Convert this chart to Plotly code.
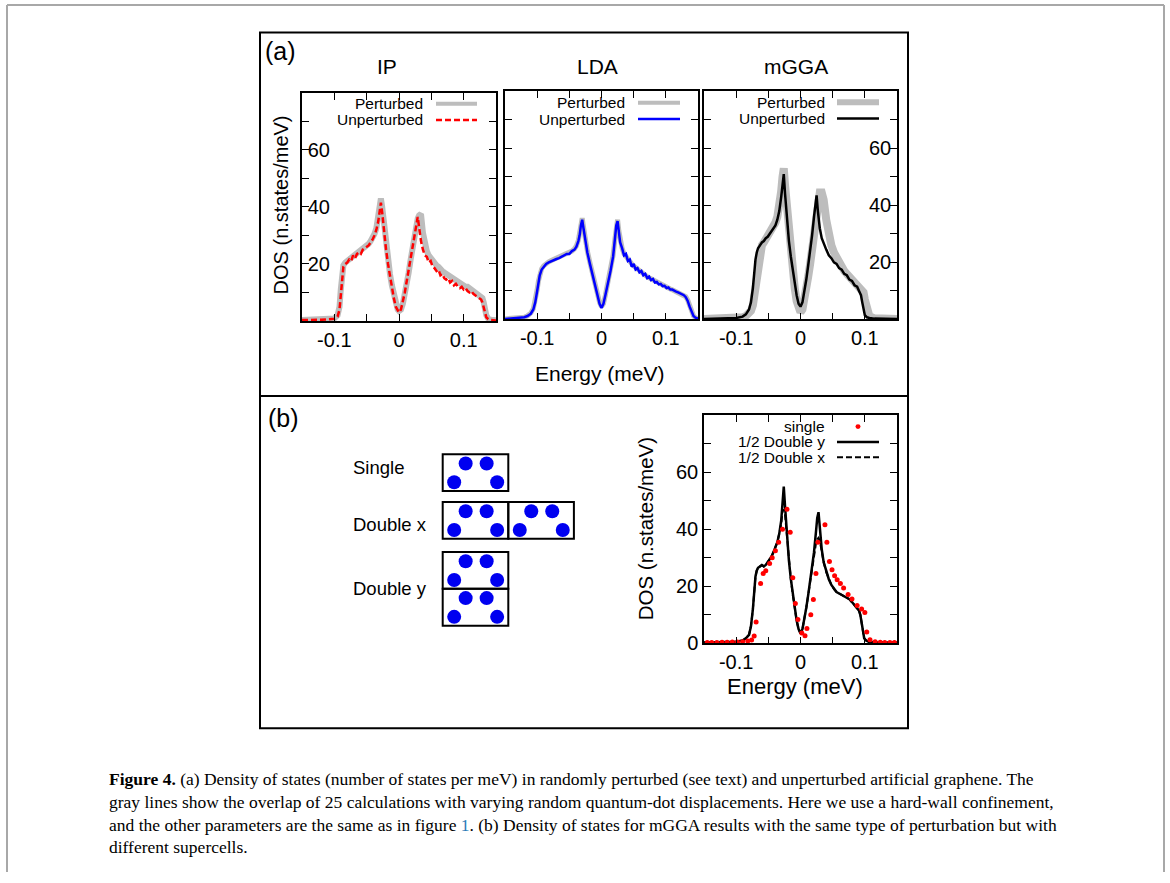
import plotly.graph_objects as go

W, H = 1170, 883

# ---------------- data ----------------
energy_ip = [-0.15, -0.12, -0.10, -0.095, -0.092, -0.09, -0.088, -0.086, -0.083, -0.08, -0.077, -0.074,
             -0.071, -0.068, -0.065, -0.062, -0.059, -0.056, -0.053, -0.05, -0.047, -0.044, -0.041, -0.038,
             -0.035, -0.032, -0.030, -0.028, -0.026, -0.023, -0.020, -0.017, -0.014, -0.011, -0.008, -0.005,
             -0.002, 0.0, 0.003, 0.006, 0.009, 0.012, 0.015, 0.018, 0.021, 0.024, 0.027, 0.029, 0.031, 0.034,
             0.037, 0.040, 0.043, 0.046, 0.049, 0.052, 0.055, 0.058, 0.061, 0.064, 0.067, 0.070, 0.073, 0.076,
             0.079, 0.082, 0.085, 0.088, 0.091, 0.094, 0.097, 0.100, 0.103, 0.106, 0.109, 0.112, 0.115, 0.118,
             0.121, 0.124, 0.127, 0.129, 0.131, 0.133, 0.135, 0.138, 0.142, 0.15]
dos_ip_unperturbed = [0.3, 0.4, 0.8, 1.5, 4, 10, 16, 19, 20, 20.5, 21.5, 21, 23, 22, 23.5, 24, 23.5, 25, 25.5,
                      26, 26.5, 27.5, 28.5, 30, 32, 35, 38, 41.5, 38, 31, 25, 20, 15.5, 11.5, 8, 5, 3.5, 3, 4,
                      6.5, 10, 14, 18, 22.5, 27, 31, 35, 36.5, 33, 28, 25, 23, 22.5, 20.5, 21, 19, 18.5, 17.5,
                      18, 16, 16.5, 15, 14.5, 15, 13.5, 14, 12.5, 13, 12, 11.5, 12, 11, 11.5, 10.5, 10, 10.5,
                      9.5, 9, 8.5, 8, 7.5, 6.5, 4.5, 2.5, 1.3, 0.6, 0.3, 0.2]
dos_ip_perturbed = [0.3, 0.4, 0.9, 2, 5, 11, 17, 19.5, 20.5, 21, 21.5, 22, 22.5, 23, 23.5, 24, 24.5, 25, 25.5,
                    26, 27, 28, 29, 30.5, 32.5, 36, 39.5, 43, 40, 33, 26.5, 21, 16.5, 12.5, 9, 6, 4, 3.5, 4,
                    6, 9, 13, 17, 21.5, 26, 30, 34, 36, 37, 37.5, 31, 26, 24.5, 23, 22, 21, 20.5, 19.5, 19,
                    18, 17.5, 17, 16.5, 16, 15.5, 15, 14.5, 14, 13.5, 13, 13, 12.5, 12, 12, 11.5, 11, 10.5,
                    10, 9.5, 9, 8.5, 8, 6.5, 4, 2, 0.8, 0.4, 0.2]

energy_lda = [-0.15, -0.13, -0.12, -0.115, -0.11, -0.106, -0.103, -0.100, -0.098, -0.096, -0.093, -0.090,
              -0.086, -0.082, -0.078, -0.074, -0.070, -0.066, -0.062, -0.058, -0.054, -0.050, -0.046, -0.042,
              -0.039, -0.036, -0.034, -0.032, -0.030, -0.028, -0.025, -0.022, -0.018, -0.014, -0.010, -0.006,
              -0.003, 0.0, 0.003, 0.006, 0.010, 0.014, 0.018, 0.021, 0.023, 0.025, 0.027, 0.029, 0.032, 0.035,
              0.038, 0.041, 0.044, 0.047, 0.050, 0.053, 0.056, 0.059, 0.062, 0.065, 0.068, 0.071, 0.074, 0.077,
              0.080, 0.083, 0.086, 0.089, 0.092, 0.095, 0.098, 0.101, 0.104, 0.107, 0.110, 0.113, 0.116, 0.119,
              0.122, 0.125, 0.128, 0.131, 0.134, 0.137, 0.140, 0.143, 0.146, 0.15]
dos_lda_unperturbed = [0.2, 0.5, 0.8, 1.2, 2, 3.5, 6, 10, 13, 15.5, 17.5, 18.5, 19.5, 20, 20.5, 21, 21.2, 21.5,
                       22, 22.3, 23, 23, 24, 24.5, 25.5, 27.5, 29.5, 33, 35, 32, 27, 23.5, 19.5, 15.5, 12, 8.5,
                       5.5, 4, 5.5, 8.5, 12.5, 17, 22, 28, 33, 34.5, 30, 27, 25, 22.5, 23, 20.5, 21, 18.5, 19.5,
                       17.5, 18, 16.5, 17, 15.5, 16, 14.5, 15, 13.8, 14.2, 13, 13.2, 12.3, 12.5, 11.7, 11.8, 11,
                       11.2, 10.5, 10.5, 10, 9.8, 9.5, 9.2, 9, 8.5, 7.8, 6.5, 4.5, 2.5, 1.2, 0.6, 0.3]
dos_lda_perturbed = [0.2, 0.5, 0.8, 1.3, 2.2, 3.8, 6.5, 10.5, 13.5, 16, 17.8, 18.8, 19.7, 20.2, 20.7, 21.1, 21.4,
                     21.7, 22.1, 22.5, 23, 23.4, 24, 24.8, 25.8, 27.8, 30, 33.5, 35.5, 32.5, 27.5, 24, 20,
                     16, 12.5, 9, 6, 4.5, 5.5, 8.5, 12.5, 17.5, 22.5, 28.5, 33.5, 35, 31, 27.5, 25, 23, 22,
                     21, 20, 19.5, 18.8, 18.2, 17.5, 17, 16.5, 16, 15.5, 15, 14.6, 14.2, 13.8, 13.4, 13, 12.6,
                     12.3, 12, 11.7, 11.3, 11, 10.7, 10.4, 10.1, 9.8, 9.5, 9.2, 9, 8.6, 8, 6.8, 4.8, 2.7, 1.3,
                     0.6, 0.3]

energy_mgga = [-0.15, -0.12, -0.10, -0.09, -0.085, -0.08, -0.077, -0.074, -0.072, -0.070, -0.068, -0.066,
               -0.063, -0.060, -0.057, -0.054, -0.051, -0.048, -0.045, -0.042, -0.039, -0.036, -0.033, -0.030,
               -0.028, -0.026, -0.024, -0.021, -0.018, -0.015, -0.012, -0.009, -0.006, -0.003, 0.0, 0.003,
               0.006, 0.009, 0.012, 0.015, 0.018, 0.021, 0.023, 0.025, 0.027, 0.030, 0.033, 0.036, 0.040,
               0.044, 0.048, 0.052, 0.056, 0.060, 0.064, 0.068, 0.072, 0.076, 0.080, 0.084, 0.088, 0.091,
               0.094, 0.096, 0.098, 0.100, 0.103, 0.107, 0.115, 0.13, 0.15]
dos_mgga_unperturbed = [0.2, 0.3, 0.5, 1, 1.8, 3.5, 6, 11, 17, 21, 23.5, 25, 26, 27, 27.5, 28.5, 29, 30, 31, 32,
                        33, 35, 38, 43, 48, 51, 44, 35, 27.5, 22, 17, 12.5, 8.5, 5.5, 4.5, 6, 9.5, 14, 19, 24,
                        29.5, 36, 41, 43.5, 38, 32, 28.5, 26.5, 24.5, 22.5, 21.5, 20, 19.5, 18, 17.5, 16, 15.5,
                        14, 13.5, 12, 11.5, 10, 8.5, 6, 3, 1.5, 0.8, 0.5, 0.3, 0.2, 0.2]
dos_mgga_perturbed = [0.2, 0.3, 0.5, 0.8, 1.2, 2, 3, 5, 8, 13, 18, 21.5, 24, 26, 27, 28, 29, 30, 31, 32.5, 34,
                      36, 39, 45, 50, 53, 47, 38, 29, 22, 16, 11, 6.5, 3.5, 2.5, 3.5, 6.5, 10.5, 15, 19.5, 24.5,
                      30, 35, 40, 43, 44.5, 44.5, 42, 35, 29, 26, 23.5, 21.5, 20, 18.5, 17, 16, 15, 14, 13, 12,
                      11.5, 11, 10.5, 9.5, 7, 3.5, 1.2, 0.4, 0.2, 0.2]

energy_b = [-0.15, -0.12, -0.10, -0.09, -0.085, -0.08, -0.077, -0.074, -0.072, -0.070, -0.068, -0.066, -0.063,
            -0.060, -0.057, -0.054, -0.051, -0.048, -0.045, -0.042, -0.039, -0.036, -0.033, -0.030, -0.028,
            -0.026, -0.024, -0.021, -0.018, -0.015, -0.012, -0.009, -0.006, -0.003, 0.0, 0.003, 0.006, 0.009,
            0.012, 0.015, 0.018, 0.021, 0.024, 0.026, 0.028, 0.030, 0.033, 0.036, 0.040, 0.044, 0.048, 0.052,
            0.056, 0.060, 0.064, 0.068, 0.072, 0.076, 0.080, 0.084, 0.088, 0.091, 0.093, 0.095, 0.097, 0.099,
            0.102, 0.106, 0.115, 0.13, 0.15]
dos_double_y = [0.3, 0.4, 0.6, 1, 1.8, 3, 6, 12, 19, 23.5, 25.5, 26.5, 27, 27.5, 27, 27.5, 28.5, 29.5, 30.5, 32,
                33.5, 35.5, 38.5, 43, 49, 55, 48, 38, 29, 22.5, 17, 12, 8, 5, 3.5, 5, 8.5, 12.5, 17, 21.5,
                26.5, 32, 39, 44, 46, 40, 33, 28.5, 25, 22.5, 20.5, 19, 18, 17.5, 17, 16.5, 16, 15.5, 14.5,
                13.5, 12.5, 11.5, 10, 7, 3.5, 1.8, 1, 0.6, 0.4, 0.3, 0.3]
dos_double_x = [0.3, 0.4, 0.6, 1, 1.8, 3, 6, 12, 19, 23.5, 25.5, 26.5, 27, 27.5, 27, 27.5, 28.5, 29.5, 30.5, 32,
                33.5, 35.5, 38.5, 42, 46, 47, 45, 37.5, 29, 22.5, 17, 12, 8, 5, 3.5, 5, 8.5, 12.5, 17, 21.5,
                26.5, 31.5, 35, 36.5, 37, 36, 32, 28.5, 25, 22.5, 20.5, 19, 18, 17.5, 17, 16.5, 16, 15.5, 14.5,
                13.5, 12.5, 11.5, 10, 7, 3.5, 1.8, 1, 0.6, 0.4, 0.3, 0.3]
energy_single = [-0.145, -0.138, -0.130, -0.122, -0.114, -0.106, -0.098, -0.090, -0.082, -0.076, -0.072, -0.069,
                 -0.062, -0.058, -0.054, -0.048, -0.044, -0.039, -0.034, -0.028, -0.021, -0.016, -0.012, -0.008,
                 -0.004, 0.002, 0.007, 0.010, 0.016, 0.020, 0.024, 0.027, 0.038, 0.041, 0.045, 0.049, 0.053,
                 0.057, 0.062, 0.067, 0.074, 0.080, 0.088, 0.095, 0.100, 0.103, 0.108, 0.116, 0.124, 0.131,
                 0.139, 0.146]
dos_single = [0.3, 0.3, 0.3, 0.4, 0.4, 0.5, 0.5, 0.6, 0.8, 1.2, 2.6, 7.5, 21, 24.5, 25.5, 28, 30, 32.5, 35.5, 40,
              47, 39, 23, 14, 8.4, 3.6, 2.7, 5.2, 10, 15.4, 24.5, 35.5, 41.6, 35.5, 28.7, 25.8, 23.7, 22.3, 21,
              19.4, 17.1, 15.6, 13.3, 12.1, 10.8, 4, 1.3, 0.6, 0.4, 0.3, 0.3, 0.3]

x_tickvals = [-0.1, -0.05, 0, 0.05, 0.1]
x_ticktext = ["-0.1", "", "0", "", "0.1"]
y_tickvals_a = [10, 20, 30, 40, 50, 60, 70]
y_ticktext_a = ["", "20", "", "40", "", "60", ""]
y_tickvals_b = [0, 10, 20, 30, 40, 50, 60, 70]
y_ticktext_b = ["0", "", "20", "", "40", "", "60", ""]

# schematic of supercells: dot pattern inside one cell (fractions of cell), cells per configuration
cell_dot_u = [0.35, 0.67, 0.175, 0.83]
cell_dot_v = [0.25, 0.25, 0.76, 0.76]
supercell_names = ["Single", "Double x", "Double y"]
supercell_cells = [[(0, 0)], [(0, 0), (1, 0)], [(0, 0), (0, 1)]]

# ---------------- layout geometry (pixels) ----------------
SANS = "Liberation Sans, Arial, sans-serif"
SERIF = "Liberation Serif, Times New Roman, serif"


def dom_x(a, b):
    return [a / W, b / W]


def dom_y(top, bottom):
    return [1 - bottom / H, 1 - top / H]


boxes = {
    "ip": ((302, 496), (94, 325)),
    "lda": ((505, 698), (92.5, 323.5)),
    "mgga": ((704, 897), (92.5, 323.5)),
    "b": ((704, 897), (420.5, 651.5)),
}

fig = go.Figure()

GRAY = "#bdbdbd"


def add(x, y, ax, **kw):
    fig.add_trace(go.Scatter(x=x, y=y, xaxis="x" + ax, yaxis="y" + ax, showlegend=False,
                             hoverinfo="skip", **kw))


add(energy_ip, dos_ip_perturbed, "", mode="lines", line=dict(color=GRAY, width=6))
add(energy_ip, dos_ip_unperturbed, "", mode="lines", line=dict(color="#ff0000", width=2.5, dash="6px,3px"))
add(energy_lda, dos_lda_perturbed, "2", mode="lines", line=dict(color=GRAY, width=5))
add(energy_lda, dos_lda_unperturbed, "2", mode="lines", line=dict(color="#0000ff", width=2.5))
add(energy_mgga, dos_mgga_perturbed, "3", mode="lines", line=dict(color=GRAY, width=8))
add(energy_mgga, dos_mgga_unperturbed, "3", mode="lines", line=dict(color="#000000", width=2.5))
add(energy_b, dos_double_y, "4", mode="lines", line=dict(color="#000000", width=2.5))
add(energy_b, dos_double_x, "4", mode="lines", line=dict(color="#000000", width=2, dash="6px,3px"))
add(energy_single, dos_single, "4", mode="markers", marker=dict(color="#ff0000", size=5, line=dict(width=0)))

# schematic dots on a pixel overlay axis
SCH_X0, SCH_ROWS_Y = 442.7, [460, 508.3, 559]
CELL_W, CELL_H = 65.6, 37.3
dot_x, dot_y = [], []
rect_shapes = []
for cells, y0 in zip(supercell_cells, SCH_ROWS_Y):
    for (ci, cj) in cells:
        cx0 = SCH_X0 + ci * CELL_W
        cy0 = y0 + cj * CELL_H
        rect_shapes.append(dict(type="rect", xref="x5", yref="y5", x0=cx0, x1=cx0 + CELL_W,
                                y0=cy0, y1=cy0 + CELL_H, line=dict(color="black", width=2)))
        for u, v in zip(cell_dot_u, cell_dot_v):
            dot_x.append(cx0 + u * CELL_W)
            dot_y.append(cy0 + v * CELL_H)
add(dot_x, dot_y, "5", mode="markers", marker=dict(color="#0000f0", size=14, line=dict(width=0)))

axis_common = dict(showline=True, linecolor="black", linewidth=1.5, mirror="ticks", ticks="inside",
                   ticklen=7, tickwidth=1, tickcolor="black", showgrid=False, zeroline=False,
                   tickfont=dict(family=SANS, size=20, color="black"))

layout = dict(width=W, height=H, margin=dict(l=0, r=0, t=0, b=0), paper_bgcolor="white",
              plot_bgcolor="rgba(0,0,0,0)", showlegend=False)

names = {"ip": "", "lda": "2", "mgga": "3", "b": "4"}
for key, sfx in names.items():
    (xa, xb), (yt, yb) = boxes[key]
    xk = "xaxis" + sfx
    yk = "yaxis" + sfx
    layout[xk] = dict(axis_common, domain=dom_x(xa, xb), range=[-0.15, 0.15], tickmode="array",
                      tickvals=x_tickvals, ticktext=x_ticktext, anchor="y" + sfx)
    if key == "b":
        yv, yt_ = y_tickvals_b, y_ticktext_b
    else:
        yv, yt_ = y_tickvals_a, y_ticktext_a
    layout[yk] = dict(axis_common, domain=dom_y(yt, yb), range=[0, 80], tickmode="array",
                      tickvals=yv, ticktext=yt_, anchor="x" + sfx)

layout["yaxis"].update(ticklabelposition="inside")
layout["yaxis2"].update(showticklabels=False)
layout["yaxis3"].update(side="right", ticklabelposition="inside")
layout["xaxis5"] = dict(domain=[0, 1], range=[0, W], visible=False, anchor="y5", fixedrange=True)
layout["yaxis5"] = dict(domain=[0, 1], range=[H, 0], visible=False, anchor="x5", fixedrange=True)

# ---------------- decorations ----------------
shapes = []
# page border
for (x0, y0, x1, y1) in [(7, 5, 1164, 5), (7, 5, 7, 883), (1164, 5, 1164, 883)]:
    shapes.append(dict(type="line", xref="x5", yref="y5", x0=x0, y0=y0, x1=x1, y1=y1,
                       line=dict(color="#a8a8a8", width=2)))
# panel frame
shapes.append(dict(type="rect", xref="x5", yref="y5", x0=260, x1=908, y0=33, y1=737.5,
                   line=dict(color="black", width=2)))
shapes.append(dict(type="line", xref="x5", yref="y5", x0=260, x1=908, y0=401, y1=401,
                   line=dict(color="black", width=2)))
shapes += rect_shapes

annotations = []


def text(x, y, s, size, anchor="center", family=SANS, angle=0, color="black"):
    annotations.append(dict(x=x, y=y, xref="x5", yref="y5", text=s, showarrow=False, xanchor=anchor,
                            yanchor="middle", textangle=angle, font=dict(family=family, size=size, color=color)))


# legend entries (text right-aligned, sample on the right)
def legend_line(x0, x1, y, color, width, dash="solid"):
    shapes.append(dict(type="line", xref="x5", yref="y5", x0=x0, x1=x1, y0=y, y1=y,
                       line=dict(color=color, width=width, dash=dash)))


legend_sets = [
    (425, 436, 477, [("Perturbed", GRAY, 4, "solid"), ("Unperturbed", "#ff0000", 2.5, "6px,3px")], 105),
    (627, 638, 680, [("Perturbed", GRAY, 4, "solid"), ("Unperturbed", "#0000ff", 2.5, "solid")], 104),
    (827, 837, 879, [("Perturbed", GRAY, 6, "solid"), ("Unperturbed", "#000000", 2.5, "solid")], 103.5),
]
for tx, lx0, lx1, entries, ytop in legend_sets:
    for i, (lab, col, wid, dsh) in enumerate(entries):
        yy = ytop + i * 16.5
        text(tx, yy, lab, 15.5, anchor="right")
        legend_line(lx0, lx1, yy, col, wid, dsh)

# panel (b) legend
text(827, 432, "single", 15.5, anchor="right")
shapes.append(dict(type="circle", xref="x5", yref="y5", x0=855.5, x1=860.5, y0=429.5, y1=434.5,
                   fillcolor="#ff0000", line=dict(width=0)))
text(827, 447.5, "1/2 Double y", 15.5, anchor="right")
legend_line(837, 879, 447.5, "#000000", 2.5)
text(827, 463, "1/2 Double x", 15.5, anchor="right")
legend_line(837, 879, 463, "#000000", 2, "6px,3px")

# titles and labels
text(263, 52, "(a)", 25, anchor="left")
text(266, 423, "(b)", 25, anchor="left")
text(387, 67, "IP", 21)
text(597.5, 67, "LDA", 21)
text(796, 67, "mGGA", 21)
text(281, 208, "DOS (n.states/meV)", 20, angle=-90)
text(600, 378, "Energy (meV)", 21)
text(645, 536, "DOS (n.states/meV)", 20.5, angle=-90)
text(795, 695, "Energy (meV)", 22)
for name, yy in zip(supercell_names, [473, 531, 596]):
    text(351, yy, name, 18.5, anchor="left")

# caption
caption_lines = [
    "<b>Figure 4.</b> (a) Density of states (number of states per meV) in randomly perturbed (see text) and unperturbed artificial graphene. The",
    "gray lines show the overlap of 25 calculations with varying random quantum-dot displacements. Here we use a hard-wall confinement,",
    "and the other parameters are the same as in figure <span style='color:#2a7ab8'>1</span>. (b) Density of states for mGGA results with the same type of perturbation but with",
    "different supercells.",
]
for line, yy in zip(caption_lines, [789, 812, 835, 858]):
    text(107, yy, line, 17.5, anchor="left", family=SERIF)

layout["shapes"] = shapes
layout["annotations"] = annotations
fig.update_layout(**layout)

fig.write_html("out.html", config={"displayModeBar": False},
               post_script="document.body.style.margin='0px';document.body.style.overflow='hidden';")
